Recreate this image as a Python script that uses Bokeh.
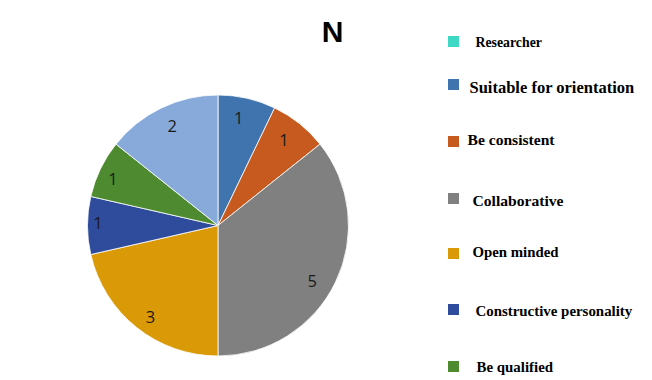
import numpy as np
from bokeh.plotting import figure
from bokeh.models import Range1d
from bokeh.core.properties import value
from bokeh.embed import file_html
from bokeh.resources import INLINE

# ---- data ----
categories = ["Researcher", "Suitable for orientation", "Be consistent", "Collaborative",
              "Open minded", "Constructive personality", "Be qualified", "Other"]
counts = [0, 1, 1, 5, 3, 1, 1, 2]
colors = ["#3DD9C5", "#3F74AF", "#C65A1F", "#808080", "#DA9A07", "#2F4C9C", "#4E8A2F", "#87AADA"]
title_text = "N"

# label placement (layout only): radial fraction and angular nudge (deg) per slice
label_frac = [0.84, 0.84, 0.83, 0.84, 0.87, 0.92, 0.88, 0.84]
label_nudge = [0, 2, 1, -5, 2, -1, 2, -1]

W, H = 652, 380
p = figure(width=W, height=H, output_backend="svg", toolbar_location=None,
           x_range=Range1d(0, W), y_range=Range1d(0, H), min_border=0)
p.axis.visible = False
p.grid.visible = False
p.outline_line_color = None
p.background_fill_color = "white"
p.border_fill_color = "white"

def py(y):
    return H - y

cx, cy, R = 217.5, py(225), 130.5

vals = np.array(counts, dtype=float)
total = vals.sum()
ends_cum = np.cumsum(vals)
starts_cum = ends_cum - vals
a_start = np.pi / 2 - 2 * np.pi * ends_cum / total
a_end = np.pi / 2 - 2 * np.pi * starts_cum / total

mask = vals > 0
p.wedge(x=cx, y=cy, radius=R, radius_units="screen",
        start_angle=list(a_start[mask]), end_angle=list(a_end[mask]),
        fill_color=[c for c, m in zip(colors, mask) if m],
        line_color="white", line_width=0.8)

mid = (a_start + a_end) / 2 + np.radians(label_nudge)
lr = np.array(label_frac) * R
lx = cx + lr * np.cos(mid)
ly = cy + lr * np.sin(mid)
p.text(x=list(lx[mask]), y=list(ly[mask]), text=[str(int(v)) for v in vals[mask]],
       text_align="center", text_baseline="middle",
       text_font=value("Open Sans"), text_font_size="16.5px", text_color="#1a1a1a")

# title
p.text(x=[332], y=[py(31)], text=[title_text], text_align="center", text_baseline="middle",
       text_font=value("Liberation Sans"), text_font_style="bold", text_font_size="30px",
       text_color="black")

# legend (first 7 entries visible in the window)
marker_y = [41, 84, 141, 198, 253, 309, 366]
text_x = [475, 469, 467, 472, 472, 475, 476]
text_y = [42, 87, 139, 200, 251, 310, 366]
text_sz = ["13.8px", "16.5px", "15.6px", "15.6px", "14.8px", "14.9px", "14.9px"]
n = len(marker_y)
p.rect(x=[453] * n, y=[py(v) for v in marker_y], width=11, height=11,
       width_units="screen", height_units="screen",
       fill_color=colors[:n], line_color=None)
for i in range(n):
    p.text(x=[text_x[i]], y=[py(text_y[i])], text=[categories[i]],
           text_align="left", text_baseline="middle",
           text_font=value("Liberation Serif"), text_font_style="bold",
           text_font_size=text_sz[i], text_color="black")

open("out.html", "w").write(file_html(p, INLINE))
